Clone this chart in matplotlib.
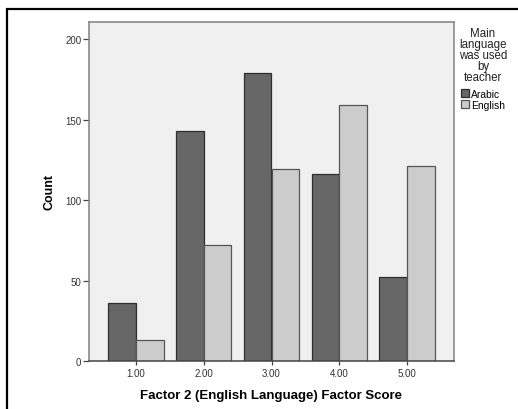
import numpy as np
import matplotlib.pyplot as plt
from matplotlib.patches import Rectangle

plt.rcParams['font.family'] = ['Liberation Sans', 'DejaVu Sans']

# Factor score categories and counts per teacher language
categories = ['1.00', '2.00', '3.00', '4.00', '5.00']
arabic = [36, 143, 179, 116, 52]
english = [13, 72, 119, 159, 121]
series_names = ['Arabic', 'English']

fig = plt.figure(figsize=(5.18, 4.10), dpi=100)
ax = fig.add_axes([89/518, 1-362/410, (454-89)/518, (362-23)/410])
ax.set_facecolor('#f0f0f0')

x = np.arange(1, len(categories) + 1)
w = 0.41
ax.bar(x - w/2, arabic, w, color='#666666', edgecolor='#2e2e2e', linewidth=0.9, label=series_names[0])
ax.bar(x + w/2, english, w, color='#cccccc', edgecolor='#555555', linewidth=0.9, label=series_names[1])

ax.set_xlim(0.313, 5.687)
ax.set_ylim(0, 210.6)
ax.set_xticks(x)
ax.set_xticklabels(categories)
ax.set_yticks([0, 50, 100, 150, 200])
ax.tick_params(axis='y', length=4.5, width=0.9, color='#444444', labelsize=7, labelcolor='#333333', pad=1)
ax.tick_params(axis='x', length=3, width=0.9, color='#444444', labelsize=7, labelcolor='#333333', pad=2)

for side in ['top', 'right', 'left']:
    ax.spines[side].set_color('#808080')
    ax.spines[side].set_linewidth(1.1)
ax.spines['bottom'].set_color('#444444')
ax.spines['bottom'].set_linewidth(1.1)

ax.set_ylabel('Count', fontsize=9, fontweight='bold', labelpad=7)
ax.set_xlabel('Factor 2 (English Language) Factor Score', fontsize=9.5, fontweight='bold', labelpad=8)

fig.text(483/518, 1-28/410, 'Main\nlanguage\nwas used\nby\nteacher', ha='center', va='top',
         fontsize=8.3, linespacing=0.9, color='#222222')
leg = ax.legend(loc='upper left', bbox_to_anchor=(461/518, 1-89.5/410), bbox_transform=fig.transFigure,
                frameon=False, fontsize=7.4, handlelength=0.8, handleheight=0.8,
                handletextpad=0.2, labelspacing=0.12, borderpad=0, borderaxespad=0)

# outer frame of the output window
fig.patches.append(Rectangle((7/518, -0.1), 1.2, 1-10/410 + 0.1, transform=fig.transFigure,
                             fill=False, edgecolor='black', linewidth=1.6))

fig.savefig('out.png', dpi=100)
